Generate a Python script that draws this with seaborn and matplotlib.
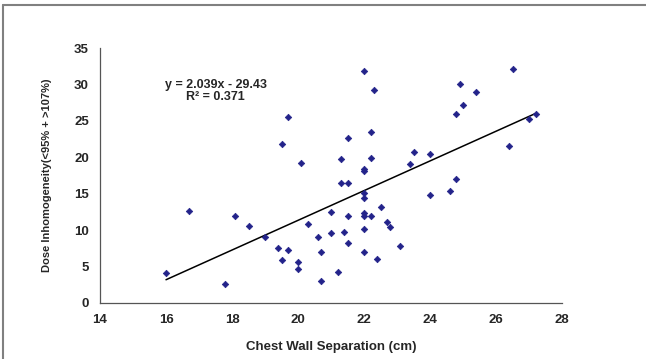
import numpy as np
import pandas as pd
import matplotlib
matplotlib.use("Agg")
import matplotlib.pyplot as plt
import seaborn as sns

# chest wall separation (cm) vs dose inhomogeneity
separation = [22.0, 22.3, 24.9, 25.0, 24.8, 19.7, 19.5, 21.5, 22.2, 20.1,
              21.3, 22.2, 22.0, 22.0, 23.5, 24.0, 23.4, 24.8, 26.5, 25.4,
              27.0, 27.2, 26.4, 16.7, 18.1, 18.5, 19.0, 19.4, 19.7, 19.5,
              16.0, 17.8, 21.3, 21.5, 22.0, 22.0, 24.6, 24.0, 22.5, 21.0,
              21.5, 22.0, 22.0, 22.2, 20.3, 22.7, 22.8, 21.0, 21.4, 22.0,
              20.6, 21.5, 20.7, 22.0, 23.1, 22.4, 20.0, 20.0, 21.2, 20.7]
inhomogeneity = [31.8, 29.2, 30.1, 27.2, 26.0, 25.5, 21.9, 22.7, 23.5, 19.2,
                 19.8, 19.9, 18.4, 18.1, 20.7, 20.5, 19.1, 17.0, 32.1, 29.0,
                 25.2, 25.9, 21.5, 12.7, 11.9, 10.6, 9.1, 7.5, 7.3, 5.9,
                 4.1, 2.6, 16.5, 16.5, 15.1, 14.4, 15.4, 14.8, 13.2, 12.5,
                 12.0, 12.3, 11.9, 11.9, 10.9, 11.1, 10.5, 9.6, 9.7, 10.2,
                 9.1, 8.3, 7.0, 7.0, 7.8, 6.1, 5.6, 4.6, 4.2, 3.0]
slope, intercept = 2.039, -29.43
line_x = [16.0, 27.2]

df = pd.DataFrame({"x": separation, "y": inhomogeneity})
fit = pd.DataFrame({"x": line_x, "y": [slope * v + intercept for v in line_x]})

sns.set_style("white")
plt.rcParams["font.family"] = ["Liberation Sans", "DejaVu Sans"]

fig = plt.figure(figsize=(6.46, 3.59), dpi=100)
ax = fig.add_axes([0.1548, 0.156, 0.7152, 0.71])

sns.scatterplot(data=df, x="x", y="y", ax=ax, marker="D", s=11,
                color="#23238a", edgecolor="#23238a", linewidth=0.5, zorder=3)
sns.lineplot(data=fit, x="x", y="y", ax=ax, color="black", linewidth=1.1)

ax.set_xlim(14, 28)
ax.set_ylim(0, 35)
ax.set_xticks(range(14, 29, 2))
ax.set_yticks(range(0, 36, 5))
for s in ["top", "right"]:
    ax.spines[s].set_visible(False)
for s in ["left", "bottom"]:
    ax.spines[s].set_color("#555555")
    ax.spines[s].set_linewidth(0.9)
ax.tick_params(axis="both", direction="out", length=4, width=0.9,
               color="#555555", labelsize=9.5, pad=4)
for lab in ax.get_xticklabels() + ax.get_yticklabels():
    lab.set_fontweight("bold")

ax.set_xlabel("Chest Wall Separation (cm)", fontsize=9.5, fontweight="bold", labelpad=11)
ax.set_ylabel("Dose Inhomogeneity(<95% + >107%)", fontsize=8, fontweight="bold",
              family=["Liberation Sans Narrow", "Liberation Sans", "DejaVu Sans"],
              labelpad=16)

ax.text(17.5, 29.9, "y = 2.039x - 29.43", ha="center", va="center",
        fontsize=9, fontweight="bold")
ax.text(17.5, 28.25, "R² = 0.371", ha="center", va="center",
        fontsize=9, fontweight="bold")

# page frame: top and left edges only
fig.add_artist(plt.Line2D([3 / 646, 1], [1 - 5 / 359, 1 - 5 / 359],
                          transform=fig.transFigure, color="#808080", linewidth=1.5))
fig.add_artist(plt.Line2D([3 / 646, 3 / 646], [0, 1 - 5 / 359],
                          transform=fig.transFigure, color="#808080", linewidth=1.5))

fig.savefig("out.png", dpi=100)
